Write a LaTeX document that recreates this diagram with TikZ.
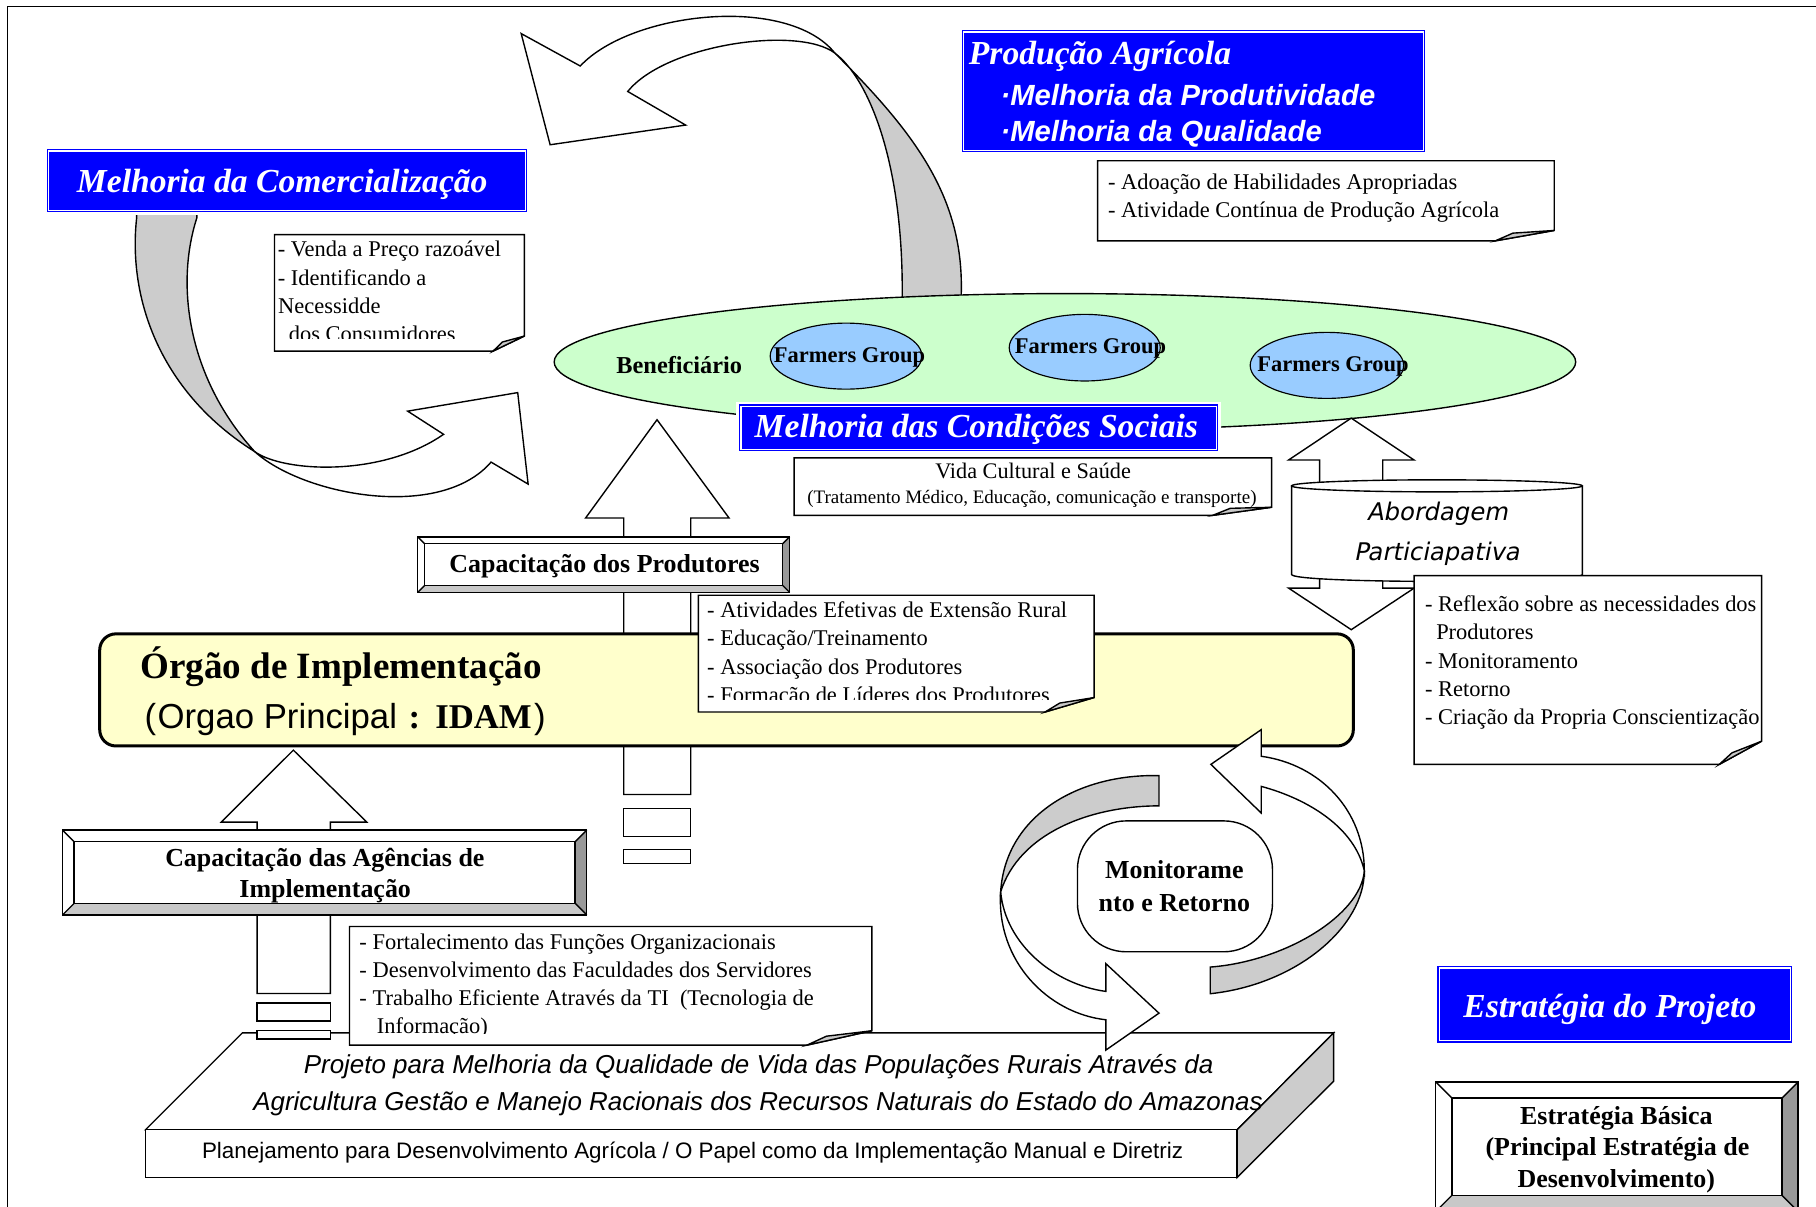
\documentclass[tikz,border=0pt]{standalone}
\usepackage{fontspec}
\setmainfont{Liberation Serif}
\setsansfont{Liberation Sans}
\newfontfamily\verafont{DejaVu Sans}[FakeSlant=0.2]
\usetikzlibrary{shapes.geometric}

\definecolor{bandgray}{RGB}{204,204,204}
\definecolor{foldgray}{RGB}{200,200,200}
\definecolor{pureblue}{RGB}{0,0,255}
\definecolor{paleyellow}{RGB}{255,255,204}
\definecolor{palegreen}{RGB}{204,255,204}
\definecolor{paleblue}{RGB}{153,204,255}
\definecolor{bevdark}{RGB}{153,153,153}
\definecolor{bevlight}{RGB}{200,200,200}

\tikzset{
  outline/.style={draw=black, line width=0.6pt, line join=miter},
  note/.style={font=\fontsize{9.7}{12}\selectfont, inner sep=0pt, anchor=base west},
  bluetitle/.style={font=\fontsize{14.5}{17}\selectfont\bfseries\itshape, text=white, inner sep=0pt, anchor=base},
  bluesub/.style={font=\sffamily\bfseries\itshape\fontsize{12.6}{15}\selectfont, text=white, inner sep=0pt, anchor=base west},
  boldlabel/.style={font=\fontsize{11.2}{13}\selectfont\bfseries, inner sep=0pt, anchor=base},
  fgroup/.style={ellipse, draw=black, line width=0.5pt, fill=paleblue, inner sep=0pt},
  fgtext/.style={font=\fontsize{9.7}{11}\selectfont\bfseries, inner sep=0pt, anchor=base},
  bluebox/.style={draw=pureblue, line width=0.5pt, double=white, double distance=0.6pt,
                  fill=pureblue, inner sep=0pt, outer sep=0pt},
  whitemargin/.style={preaction={draw=white, line width=4pt}},
  slabtext/.style={font=\sffamily\itshape\fontsize{11.2}{13}\selectfont, inner sep=0pt, anchor=base},
  cyltext/.style={font=\verafont\fontsize{10.5}{12}\selectfont, inner sep=0pt, anchor=base},
}

% sheet of paper with a curled lower right corner
\newcommand\notesheet[6]{%
  \draw[outline, fill=white] (#1,#2) -- (#3,#2) -- (#3,{#4-#6}) -- ({#3-#5},#4) -- (#1,#4) -- cycle;
  \draw[outline, fill=foldgray] ({#3-#5},#4) -- ({#3-0.7*#5},{#4-0.3*#6-4}) -- (#3,{#4-#6}) -- cycle;
}
% bevelled frame: x1 y1 x2 y2 bevel
\newcommand\bevelframe[5]{%
  \fill[white] (#1,#2) rectangle (#3,#4);
  \fill[bevdark] (#3,#2) -- (#3,#4) -- ({#3-#5},{#4-#5}) -- ({#3-#5},{#2+#5}) -- cycle;
  \fill[bevlight] (#1,#4) -- (#3,#4) -- ({#3-#5},{#4-#5}) -- ({#1+#5},{#4-#5}) -- cycle;
  \draw[outline] (#1,#2) rectangle (#3,#4);
  \draw[outline] ({#1+#5},{#2+#5}) rectangle ({#3-#5},{#4-#5});
  \draw[outline] (#1,#2) -- ({#1+#5},{#2+#5});
  \draw[outline] (#3,#2) -- ({#3-#5},{#2+#5});
  \draw[outline] (#1,#4) -- ({#1+#5},{#4-#5});
  \draw[outline] (#3,#4) -- ({#3-#5},{#4-#5});
}

\begin{document}
\begin{tikzpicture}[x=0.5pt, y=-0.5pt]
\path[use as bounding box, fill=white] (0,0) rectangle (1568,1042);
\draw[line width=0.7pt] (6.6,1042) -- (6.6,5.5) -- (1568,5.5);

% ---------- curved ribbon arrow, top ----------
\draw[outline, fill=bandgray] (721,46) .. controls (790,115) and (832,170) .. (830,253)
  -- (830,290) -- (779,290) -- (779,256) .. controls (780,140) and (750,68) .. (721,46) -- cycle;
\draw[outline, fill=white] (542,79) -- (592,108) -- (475,125) -- (450,29) -- (501,57)
  .. controls (545,10) and (680,-5) .. (721,46)
  .. controls (690,22) and (575,38) .. (542,79) -- cycle;

% ---------- curved ribbon arrow, left ----------
\draw[outline, fill=bandgray] (118,175) -- (118,188) .. controls (110,260) and (140,340) .. (220,390)
  .. controls (165,330) and (150,250) .. (170,188) -- (170,175);
\draw[outline, fill=white] (220,390) .. controls (262,428) and (380,450) .. (424,399)
  -- (456,418) -- (447,339) -- (352,355) -- (383,375)
  .. controls (330,412) and (245,408) .. (220,390) -- cycle;

% ---------- beneficiaries ----------
\node[ellipse, draw=black, line width=0.6pt, fill=palegreen, inner sep=0pt,
      minimum width=441pt, minimum height=59pt] (benef) at (919.5,312.5) {};
\node[fgroup, minimum width=65.5pt, minimum height=28.5pt] (fg1) at (730.5,307.5) {};
\node[fgroup, minimum width=65.2pt, minimum height=28.75pt] (fg2) at (936.6,300.2) {};
\node[fgroup, minimum width=66.25pt, minimum height=28.5pt] (fg3) at (1145.7,315.5) {};
\node[fgtext] (fgt1) at (733.5,313) {Farmers Group};
\node[fgtext] (fgt2) at (941.6,305.3) {Farmers Group};
\node[fgtext] (fgt3) at (1151,320.7) {Farmers Group};
\node[font=\fontsize{10.5}{12}\selectfont\bfseries, inner sep=0pt, anchor=base] (beneft) at (586.5,322.3) {Beneficiário};

% ---------- participative approach ----------
\draw[outline, fill=white] (1166.7,361) -- (1221,397.2) -- (1193.9,397.2) -- (1193.9,507.8)
  -- (1221,507.8) -- (1166.7,543.7) -- (1112.6,507.8) -- (1139.4,507.8) -- (1139.4,397.2)
  -- (1112.6,397.2) -- cycle;
\draw[outline, fill=white] (1115.2,419.5) -- (1115.2,496) .. controls (1115.2,504) and (1366.3,504) .. (1366.3,496) -- (1366.3,419.5);
\draw[outline, fill=white] (1240.7,419.5) ellipse [x radius=62.75pt, y radius=2.6pt];
\node[cyltext] (abord1) at (1241,449) {Abordagem};
\node[cyltext] (abord2) at (1240.5,483.6) {Particiapativa};

% ---------- blue headings ----------
\node[bluebox, whitemargin, minimum width=205.7pt, minimum height=25.6pt] (comerc) at (247.8,155.9) {};
\node[bluetitle] (comerct) at (243.7,166.5) {Melhoria da Comercialização};

\node[bluebox, minimum width=198.6pt, minimum height=51.1pt] (prod) at (1030.4,78.9) {};
\node[font=\fontsize{14.5}{17}\selectfont\bfseries\itshape, text=white, inner sep=0pt, anchor=base west] (prodt) at (836.2,55.5) {Produção Agrícola};
\node[bluesub] (prod1) at (863.6,90.7) {·Melhoria da Produtividade};
\node[bluesub] (prod2) at (863.6,122.3) {·Melhoria da Qualidade};

\node[bluebox, whitemargin, minimum width=205.2pt, minimum height=18.6pt] (social) at (845,369.35) {};
\node[bluetitle] (socialt) at (843,377.8) {Melhoria das Condições Sociais};

% ---------- notes, upper half ----------
\notesheet{237}{202.6}{452.7}{303.2}{27}{13}
\begin{scope}
  \clip (237,202.6) rectangle (452.7,292.4);
  \node[note] (ven1) at (239.5,221.4) {- Venda a Preço razoável};
  \node[note] (ven2) at (239.5,246.1) {- Identificando a};
  \node[note] (ven3) at (239.8,270.4) {Necessidde};
  \node[note] (ven4) at (249,295) {dos Consumidores};
\end{scope}

\notesheet{947.7}{138.8}{1342}{208}{51}{9}
\node[note] (ado1) at (956.3,163.3) {- Adoação de Habilidades Apropriadas};
\node[note] (ado2) at (956.3,187.8) {- Atividade Contínua de Produção Agrícola};

\notesheet{685.7}{395.4}{1098}{445}{51}{7}
\node[font=\fontsize{9.6}{11}\selectfont, inner sep=0pt, anchor=base] (vida1) at (892,413) {Vida Cultural e Saúde};
\node[font=\fontsize{8.2}{10}\selectfont, inner sep=0pt, anchor=base] (vida2) at (891,434.7) {(Tratamento Médico, Educação, comunicação e transporte)};

% ---------- producers' training ----------
\draw[outline, fill=white] (567.3,362.4) -- (629.5,447.3) -- (596.4,447.3) -- (596.4,686)
  -- (538.6,686) -- (538.6,447.3) -- (505.6,447.3) -- cycle;
\draw[outline, fill=white] (538.6,698) rectangle (596.4,722);
\draw[outline, fill=white] (538.6,733.5) rectangle (596.4,745.5);
\bevelframe{360.7}{463.5}{681.8}{511.5}{6}
\node[boldlabel] (capprod) at (522,494.5) {Capacitação dos Produtores};

% ---------- implementing body ----------
\node[draw=black, line width=1.3pt, fill=paleyellow, rounded corners=7pt, inner sep=0pt,
      minimum width=541.2pt, minimum height=48.4pt] (orgao) at (627.3,595.7) {};
\node[font=\fontsize{16}{19}\selectfont\bfseries, inner sep=0pt, anchor=base west] (orgao1) at (120.9,585.8) {Órgão de Implementação};
\node[inner sep=0pt, anchor=base west] (orgao2) at (124.5,629)
  {\sffamily\fontsize{15}{18}\selectfont(\hspace{0.6pt}Orgao Principal\hspace{5pt}\rmfamily\bfseries:\hspace{6.5pt}IDAM\hspace{1pt}\mdseries\sffamily)};

\notesheet{603}{514}{944.7}{614.8}{42.4}{12.5}
\begin{scope}
  \clip (603,514) rectangle (944.7,604.2);
  \node[note] (ati1) at (610.2,533) {- Atividades Efetivas de Extensão Rural};
  \node[note] (ati2) at (610.2,557.6) {- Educação/Treinamento};
  \node[note] (ati3) at (610.2,582.2) {- Associação dos Produtores};
  \node[note] (ati4) at (610.2,606.8) {- Formação de Líderes dos Produtores};
\end{scope}

\notesheet{1221}{497}{1521}{660}{36.5}{20}
\node[note] (ref1) at (1230.1,527.8) {- Reflexão sobre as necessidades dos};
\node[note] (ref2) at (1239.7,552) {Produtores};
\node[note] (ref3) at (1230.1,577) {- Monitoramento};
\node[note] (ref4) at (1230.1,601.2) {- Retorno};
\node[note] (ref5) at (1230.1,625.4) {- Criação da Propria Conscientização};

% ---------- project base slab ----------
\draw[outline, fill=white] (209.3,891.8) -- (1151.5,891.8) -- (1068.2,975.5) -- (125.6,975.5) -- cycle;
\draw[outline, fill=white] (125.6,975.5) rectangle (1068.2,1016.7);
\draw[outline, fill=bandgray] (1068.2,975.5) -- (1151.5,891.8) -- (1151.5,933.5) -- (1068.2,1016.7) -- cycle;
\node[slabtext] (proj1) at (655,926.9) {Projeto para Melhoria da Qualidade de Vida das Populações Rurais Através da};
\node[slabtext] (proj2) at (654.5,958.5) {Agricultura Gestão e Manejo Racionais dos Recursos Naturais do Estado do Amazonas};
\node[font=\sffamily\fontsize{9.67}{12}\selectfont, inner sep=0pt, anchor=base] (plan) at (598,1000.3) {Planejamento para Desenvolvimento Agrícola / O Papel como da Implementação Manual e Diretriz};

% ---------- agencies' training ----------
\draw[outline, fill=white] (253.3,647.7) -- (316.7,709.8) -- (285.3,709.8) -- (285.3,857.8)
  -- (222,857.8) -- (222,709.8) -- (191,709.8) -- cycle;
\draw[outline, fill=white] (222,866) rectangle (285.3,881.6);
\draw[outline, fill=white] (222,889.7) rectangle (285.3,897);
\bevelframe{54}{716.8}{506.6}{790}{10}
\node[boldlabel] (capag1) at (280.5,748) {Capacitação das Agências de};
\node[boldlabel] (capag2) at (280.8,775.2) {Implementação};

\notesheet{301.8}{800}{752.8}{902.4}{56}{12.4}
\begin{scope}
  \clip (301.8,800) rectangle (752.8,892.4);
  \node[note] (for1) at (310,819.9) {- Fortalecimento das Funções Organizacionais};
  \node[note] (for2) at (310,843.7) {- Desenvolvimento das Faculdades dos Servidores};
  \node[note] (for3) at (310,868.3) {- Trabalho Eficiente Através da TI\ \ (Tecnologia de};
  \node[note] (for4) at (325,892.6) {Informação)};
\end{scope}

% ---------- monitoring cycle ----------
\draw[outline, fill=bandgray] (1178,752) .. controls (1178,800) and (1120,850) .. (1045,858)
  -- (1045,835) .. controls (1110,830) and (1175,790) .. (1178,752) -- cycle;
\draw[outline, fill=white] (1089,679) -- (1089,702) -- (1045.5,660) -- (1089,630) -- (1089,653)
  .. controls (1140,660) and (1178,700) .. (1178,752)
  .. controls (1170,715) and (1130,690) .. (1089,679) -- cycle;
\draw[outline, fill=bandgray] (1000.7,669.7) -- (1000.7,695.8) .. controls (940,696) and (880,720) .. (864,770)
  .. controls (868,705) and (930,668) .. (1000.7,669.7) -- cycle;
\draw[outline, fill=white] (864,770) .. controls (860,830) and (905,875) .. (954.8,880.5)
  -- (954.8,906.7) -- (1000.7,874.8) -- (954.8,832) -- (954.8,856)
  .. controls (910,850) and (868,815) .. (864,770) -- cycle;
\node[draw=black, line width=0.6pt, fill=white, rounded corners=21pt, inner sep=0pt,
      minimum width=84.2pt, minimum height=56.5pt] (monit) at (1014.5,765.3) {};
\node[boldlabel] (monit1) at (1014,758.5) {Monitorame};
\node[boldlabel] (monit2) at (1014,787.3) {nto e Retorno};

% ---------- strategy ----------
\node[bluebox, minimum width=151.5pt, minimum height=31.4pt] (estrat) at (1394.25,867.2) {};
\node[bluetitle] (estratt) at (1390,878.6) {Estratégia do Projeto};

\bevelframe{1239.7}{934.2}{1552.5}{1046}{14}
\node[boldlabel] (basic1) at (1395.6,970.5) {Estratégia Básica};
\node[boldlabel] (basic2) at (1396.5,997.8) {(Principal Estratégia de};
\node[boldlabel] (basic3) at (1395.6,1025) {Desenvolvimento)};
\end{tikzpicture}
\end{document}
